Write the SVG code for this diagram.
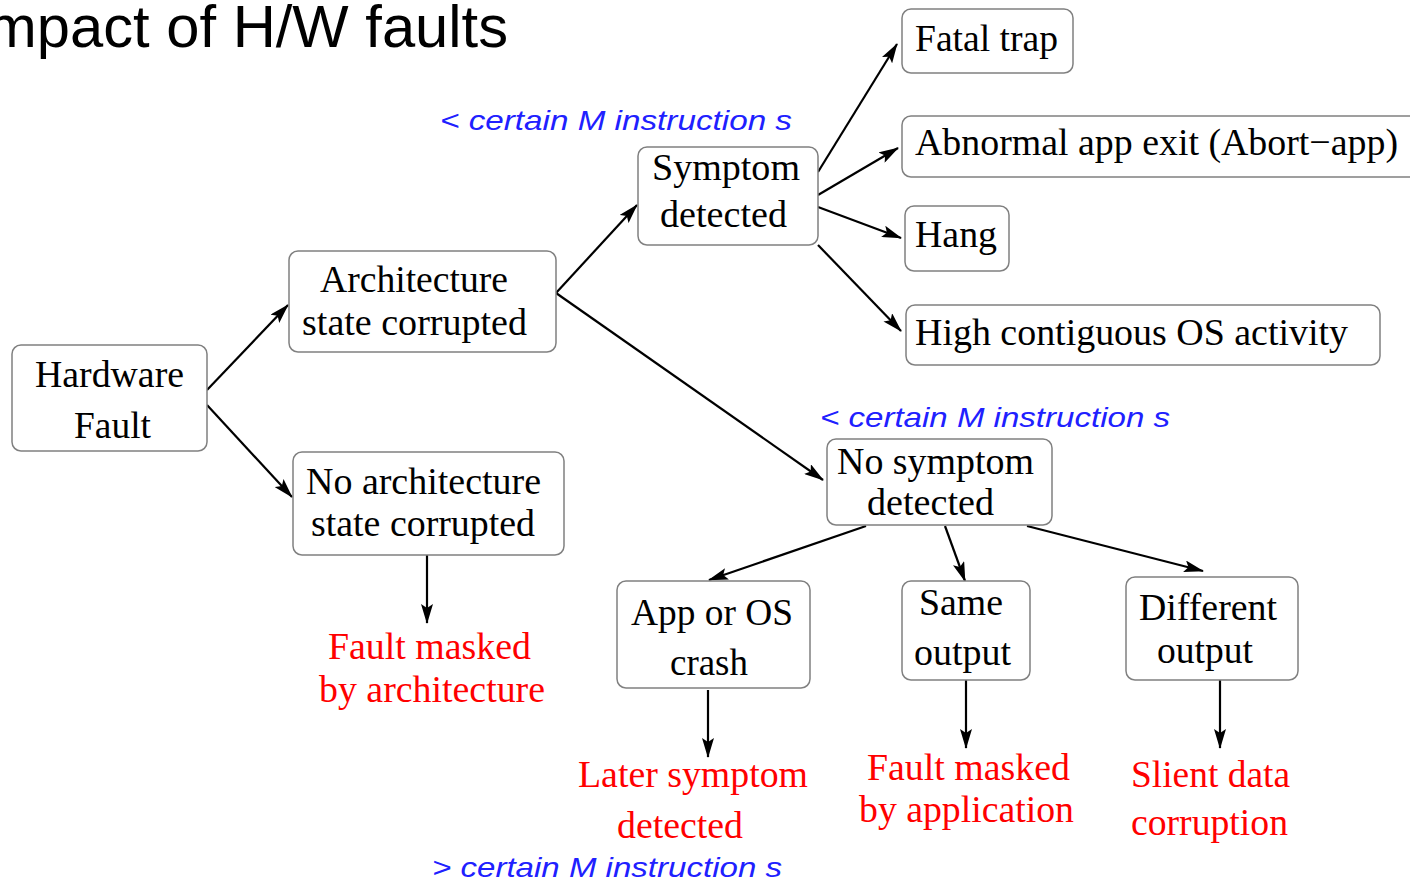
<svg xmlns="http://www.w3.org/2000/svg" width="1410" height="880" viewBox="0 0 1410 880">
  <style>
    .box { fill: #ffffff; stroke: #808080; stroke-width: 1.5; }
    .lbl { font-family: "Liberation Serif", "Times New Roman", serif; font-size: 38px; fill: #000000; }
    .out { font-family: "Liberation Serif", "Times New Roman", serif; font-size: 38px; fill: #ff0000; }
    .cond { font-family: "Liberation Sans", Arial, sans-serif; font-style: italic; font-size: 28px; fill: #2020ff; }
    .title { font-family: "Liberation Sans", Arial, sans-serif; font-size: 60px; fill: #000000; }
    .edge { stroke: #000000; stroke-width: 2.2; fill: none; marker-end: url(#arrow); }
  </style>
  <defs>
    <marker id="arrow" markerUnits="userSpaceOnUse" viewBox="0 0 20 12" markerWidth="20" markerHeight="12" refX="19" refY="6" orient="auto">
      <path d="M0,0 L20,6 L0,12 L4,6 Z" fill="#000000"/>
    </marker>
  </defs>

  <rect width="1410" height="880" fill="#ffffff"/>

  <text class="title" x="-29.5" y="47" textLength="537.5" lengthAdjust="spacingAndGlyphs">Impact of H/W faults</text>

  <!-- connectors -->
  <g id="connectors">
    <line class="edge" x1="207" y1="390" x2="288" y2="305"/>
    <line class="edge" x1="207" y1="405" x2="292" y2="497"/>
    <line class="edge" x1="427" y1="555" x2="427" y2="623"/>
    <line class="edge" x1="556" y1="293" x2="637" y2="205"/>
    <line class="edge" x1="556" y1="293" x2="823" y2="480"/>
    <line class="edge" x1="818" y1="172" x2="897" y2="44"/>
    <line class="edge" x1="818" y1="195" x2="898" y2="148"/>
    <line class="edge" x1="818" y1="207" x2="901" y2="238"/>
    <line class="edge" x1="818" y1="245" x2="901" y2="331"/>
    <line class="edge" x1="866" y1="526" x2="709" y2="580"/>
    <line class="edge" x1="945" y1="526" x2="965" y2="581"/>
    <line class="edge" x1="1027" y1="526" x2="1203" y2="571"/>
    <line class="edge" x1="708" y1="690" x2="708" y2="757"/>
    <line class="edge" x1="966" y1="680" x2="966" y2="748"/>
    <line class="edge" x1="1220" y1="680" x2="1220" y2="748"/>
  </g>

  <!-- nodes -->
  <g id="hardware-fault">
    <rect class="box" x="12" y="345" width="195" height="106" rx="9"/>
    <text class="lbl" x="35" y="387" textLength="149" lengthAdjust="spacingAndGlyphs">Hardware</text>
    <text class="lbl" x="74" y="438" textLength="77" lengthAdjust="spacingAndGlyphs">Fault</text>
  </g>

  <g id="arch-corrupted">
    <rect class="box" x="289" y="251" width="267" height="101" rx="9"/>
    <text class="lbl" x="320" y="292" textLength="188" lengthAdjust="spacingAndGlyphs">Architecture</text>
    <text class="lbl" x="302" y="335" textLength="225" lengthAdjust="spacingAndGlyphs">state corrupted</text>
  </g>

  <g id="no-arch-corrupted">
    <rect class="box" x="293" y="452" width="271" height="103" rx="9"/>
    <text class="lbl" x="306" y="494" textLength="235" lengthAdjust="spacingAndGlyphs">No architecture</text>
    <text class="lbl" x="311" y="536" textLength="224" lengthAdjust="spacingAndGlyphs">state corrupted</text>
  </g>

  <g id="symptom-detected">
    <rect class="box" x="638" y="147" width="180" height="98" rx="9"/>
    <text class="lbl" x="652" y="180" textLength="148" lengthAdjust="spacingAndGlyphs">Symptom</text>
    <text class="lbl" x="660" y="227" textLength="127" lengthAdjust="spacingAndGlyphs">detected</text>
  </g>

  <g id="fatal-trap">
    <rect class="box" x="902" y="9" width="171" height="64" rx="9"/>
    <text class="lbl" x="915" y="51" textLength="143" lengthAdjust="spacingAndGlyphs">Fatal trap</text>
  </g>

  <g id="abort-app">
    <rect class="box" x="902" y="116" width="520" height="61" rx="9"/>
    <text class="lbl" x="915" y="155" textLength="483" lengthAdjust="spacingAndGlyphs">Abnormal app exit (Abort−app)</text>
  </g>

  <g id="hang">
    <rect class="box" x="905" y="206" width="104" height="65" rx="9"/>
    <text class="lbl" x="915" y="247" textLength="82" lengthAdjust="spacingAndGlyphs">Hang</text>
  </g>

  <g id="os-activity">
    <rect class="box" x="906" y="305" width="474" height="60" rx="9"/>
    <text class="lbl" x="915" y="345" textLength="433" lengthAdjust="spacingAndGlyphs">High contiguous OS activity</text>
  </g>

  <g id="no-symptom">
    <rect class="box" x="827" y="439" width="225" height="86" rx="9"/>
    <text class="lbl" x="837" y="474" textLength="197" lengthAdjust="spacingAndGlyphs">No symptom</text>
    <text class="lbl" x="867" y="515" textLength="127" lengthAdjust="spacingAndGlyphs">detected</text>
  </g>

  <g id="crash">
    <rect class="box" x="617" y="581" width="193" height="107" rx="9"/>
    <text class="lbl" x="631" y="625" textLength="162" lengthAdjust="spacingAndGlyphs">App or OS</text>
    <text class="lbl" x="670" y="675" textLength="78" lengthAdjust="spacingAndGlyphs">crash</text>
  </g>

  <g id="same-output">
    <rect class="box" x="902" y="581" width="128" height="99" rx="9"/>
    <text class="lbl" x="919" y="615" textLength="84" lengthAdjust="spacingAndGlyphs">Same</text>
    <text class="lbl" x="914" y="665" textLength="97" lengthAdjust="spacingAndGlyphs">output</text>
  </g>

  <g id="different-output">
    <rect class="box" x="1126" y="577" width="172" height="103" rx="9"/>
    <text class="lbl" x="1139" y="620" textLength="138" lengthAdjust="spacingAndGlyphs">Different</text>
    <text class="lbl" x="1157" y="663" textLength="96" lengthAdjust="spacingAndGlyphs">output</text>
  </g>

  <!-- outcomes -->
  <g id="masked-arch">
    <text class="out" x="328" y="659" textLength="203" lengthAdjust="spacingAndGlyphs">Fault masked</text>
    <text class="out" x="319" y="702" textLength="226" lengthAdjust="spacingAndGlyphs">by architecture</text>
  </g>
  <g id="later-symptom">
    <text class="out" x="578" y="787" textLength="230" lengthAdjust="spacingAndGlyphs">Later symptom</text>
    <text class="out" x="617" y="838" textLength="126" lengthAdjust="spacingAndGlyphs">detected</text>
  </g>
  <g id="masked-app">
    <text class="out" x="867" y="780" textLength="203" lengthAdjust="spacingAndGlyphs">Fault masked</text>
    <text class="out" x="859" y="822" textLength="215" lengthAdjust="spacingAndGlyphs">by application</text>
  </g>
  <g id="sdc">
    <text class="out" x="1131" y="787" textLength="159" lengthAdjust="spacingAndGlyphs">Slient data</text>
    <text class="out" x="1131" y="835" textLength="157" lengthAdjust="spacingAndGlyphs">corruption</text>
  </g>

  <!-- instruction-count conditions -->
  <g id="conditions">
    <text class="cond" x="440" y="130" textLength="352" lengthAdjust="spacingAndGlyphs">&lt; certain M instruction s</text>
    <text class="cond" x="820" y="427" textLength="350" lengthAdjust="spacingAndGlyphs">&lt; certain M instruction s</text>
    <text class="cond" x="432" y="877" textLength="350" lengthAdjust="spacingAndGlyphs">&gt; certain M instruction s</text>
  </g>
</svg>
